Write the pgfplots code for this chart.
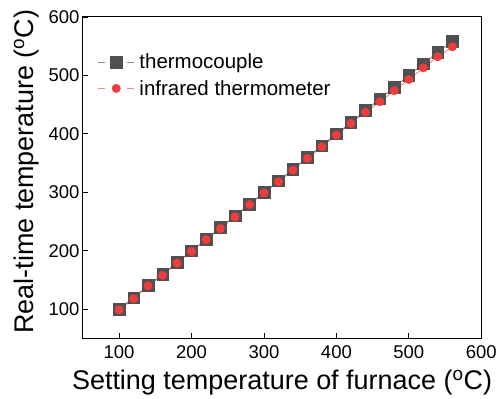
\documentclass[border=0pt]{standalone}
\usepackage{fontspec}
\setmainfont{Liberation Sans}
\usepackage{pgfplots}
\pgfplotsset{compat=1.18}
\definecolor{tgray}{RGB}{80,80,80}
\definecolor{tred}{RGB}{240,60,60}
\begin{document}
\begin{tikzpicture}
\begin{axis}[
  name=ax,
  scale only axis,
  width=399pt, height=322pt,
  xmin=50, xmax=600, ymin=50, ymax=600,
  xtick={100,200,...,600}, ytick={100,200,...,600},
  xtick pos=left, ytick pos=left,
  tick align=inside,
  major tick length=5pt,
  axis line style={line width=1pt, black},
  tick style={line width=0.8pt, black},
  /pgf/number format/assume math mode=true,
  ticklabel style={font=\fontsize{18.5}{22}\selectfont},
  xticklabel style={yshift=-4pt},
  xlabel={Setting temperature of furnace (\textsuperscript{o}C)},
  ylabel={Real-time temperature (\textsuperscript{o}C)},
  label style={font=\fontsize{27}{32}\selectfont},
  xlabel style={yshift=-4pt},
  ylabel style={yshift=3pt, xshift=6pt},
  legend style={draw=none, fill=none, at={(0.03,0.898)}, anchor=north west,
    font=\fontsize{20.5}{24}\selectfont, row sep=6pt},
  legend cell align=left,
  legend image code/.code={
    \draw[#1, solid, opacity=0.6] (0pt,0pt) -- (7pt,0pt);
    \draw[#1, solid, opacity=0.6] (29pt,0pt) -- (36pt,0pt);
    \draw[#1] plot[only marks] coordinates {(18pt,0pt)};
    \path (39pt,0pt);
  },
  clip=false,
]
\addplot[color=tgray, line width=0.5pt, mark=square*, mark size=5.8pt,
  mark options={solid, fill=tgray, draw=tgray}]
coordinates {
(100,100)(120,120)(140,141)(160,160)(180,180)(200,200)(220,220)(240,240)
(260,260)(280,280)(300,300)(320,320)(340,340)(360,360)(380,380)(400,400)
(420,420)(440,440)(460,460)(480,480)(500,500)(520,520)(540,540)(560,558)
};
\addlegendentry{thermocouple}
\addplot[color=tred, line width=0.5pt, mark=*, mark size=4.2pt,
  mark options={solid, fill=tred, draw=tred},
  error bars/.cd, y dir=both, y explicit,
  error bar style={line width=0.6pt, tred},
  error mark options={rotate=90, mark size=3pt, line width=0.6pt, tred}]
coordinates {
(100,99) +- (0,1) (120,118) +- (0,1) (140,140) +- (0,1) (160,158) +- (0,1)
(180,179) +- (0,1) (200,199) +- (0,1) (220,219) +- (0,1) (240,238) +- (0,1)
(260,258) +- (0,1) (280,279) +- (0,1) (300,299) +- (0,1) (320,318) +- (0,1)
(340,338) +- (0,1.5) (360,358) +- (0,1.5) (380,378) +- (0,1.5) (400,398) +- (0,2)
(420,418) +- (0,2) (440,437) +- (0,2.5) (460,455) +- (0,3) (480,474) +- (0,5)
(500,493) +- (0,4) (520,513) +- (0,5) (540,532) +- (0,5) (560,549) +- (0,5)
};
\addlegendentry{infrared thermometer}
\end{axis}
\path (ax.south west) ++(-83pt,-60pt) coordinate (bl);
\path (ax.north east) ++(18pt,17pt) coordinate (tr);
\path (bl) rectangle (tr);
\end{tikzpicture}
\end{document}
